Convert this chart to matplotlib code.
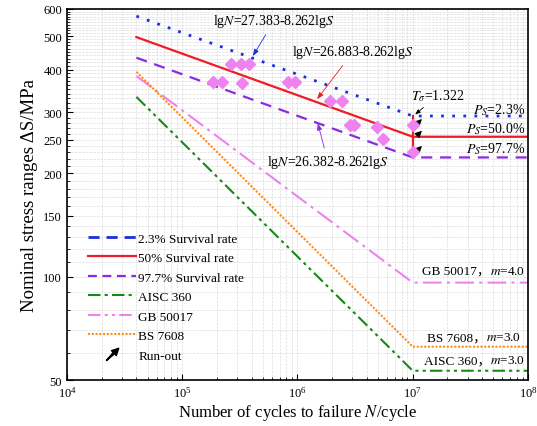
import numpy as np
import matplotlib
matplotlib.use("Agg")
import matplotlib.pyplot as plt
from matplotlib.lines import Line2D
from matplotlib.ticker import FixedLocator, NullFormatter, LogLocator

plt.rcParams["font.family"] = ["Liberation Serif", "Noto Sans CJK SC"]
plt.rcParams["mathtext.fontset"] = "stix"

# ---- data ----
N_curve = [4e4, 1e7, 1e8]
S_p023 = [572, 293, 293]      # 2.3 % survival (lgN=27.383-8.262lgS)
S_p500 = [497, 255, 255]      # 50 % survival  (lgN=26.883-8.262lgS)
S_p977 = [433, 222, 222]      # 97.7 % survival (lgN=26.382-8.262lgS)
S_aisc = [333, 53.2, 53.2]    # AISC 360, m=3
S_gb = [383, 96, 96]          # GB 50017, m=4
S_bs = [394, 62.5, 62.5]      # BS 7608, m=3

test_N = [1.86e5, 2.21e5, 2.65e5, 3.21e5, 3.77e5, 3.32e5, 8.32e5, 9.51e5,
          1.91e6, 2.42e6, 2.85e6, 3.09e6, 4.87e6, 5.49e6, 1e7, 1e7]
test_S = [367, 367, 415, 415, 415, 365, 367, 367,
          323, 323, 275, 275, 273, 251, 275, 230]

runout_N = 1.25e7
runout_S = [291, 269, 243]

y_major = [50, 100, 150, 200, 250, 300, 400, 500, 600]

c_blue, c_red, c_purple = "#1a2fe0", "#ee1c25", "#8a2be2"
c_green, c_pink, c_orange = "#138a13", "#ee82ee", "#ff8c1a"

fig = plt.figure(figsize=(5.37, 4.27), dpi=100)
ax = fig.add_axes([0.1248, 0.1077, 0.8584, 0.8689])

ax.plot(N_curve, S_p023, color=c_blue, lw=2.0, ls=(0, (1, 3)))
ax.plot(N_curve, S_p500, color=c_red, lw=1.6)
ax.plot(N_curve, S_p977, color=c_purple, lw=1.6, ls=(0, (5, 3.5)))
ax.plot(N_curve, S_aisc, color=c_green, lw=1.5, ls=(0, (6, 2, 1.5, 2, 1.5, 2)))
ax.plot(N_curve, S_gb, color=c_pink, lw=1.5, ls=(0, (9, 2.5, 1.5, 2.5)))
ax.plot(N_curve, S_bs, color=c_orange, lw=1.5, ls=(0, (1, 0.8)))
# vertical scatter band at the knee
ax.plot([1e7, 1e7], [S_p977[1], S_p023[1]], color=c_red, lw=1.6)

ax.plot(test_N, test_S, ls="none", marker="D", ms=6.5, color=c_pink,
        mec=c_pink, zorder=5)

for s in runout_S:
    ax.annotate("", xy=(runout_N, s), xytext=(-6, -6), textcoords="offset points",
                arrowprops=dict(arrowstyle="-|>,head_length=0.4,head_width=0.2",
                                color="black", lw=0.8))

ax.set_xscale("log")
ax.set_yscale("log")
ax.set_xlim(1e4, 1e8)
ax.set_ylim(50, 600)
ax.xaxis.set_major_locator(LogLocator(base=10, numticks=10))
ax.yaxis.set_major_locator(FixedLocator(y_major))
ax.yaxis.set_major_formatter(plt.FuncFormatter(lambda v, p: f"{v:g}"))
ax.yaxis.set_minor_locator(FixedLocator([v for v in range(60, 600, 10)
                                         if v not in y_major]))
ax.yaxis.set_minor_formatter(NullFormatter())
ax.tick_params(which="both", direction="in", labelsize=9)
ax.tick_params(which="major", length=4)
ax.tick_params(which="minor", length=2)
ax.grid(which="both", color="#dcdcdc", ls="--", lw=0.5)
for sp in ax.spines.values():
    sp.set_linewidth(1.2)

ax.set_xlabel("Number of cycles to failure $N$/cycle", fontsize=12, labelpad=2)
ax.set_ylabel("Nominal stress ranges ΔS/MPa", fontsize=13.5, labelpad=4)

# equations (text positions in figure pixels, from bottom-left)
arrow_kw = "-|>,head_length=0.4,head_width=0.15"
ax.annotate("lg$N$=27.383-8.262lg$S$", xy=(4.1e5, 438), xytext=(274, 405),
            textcoords="figure pixels", fontsize=10, ha="center", va="center",
            arrowprops=dict(arrowstyle=arrow_kw, color=c_blue, lw=0.6,
                            shrinkA=2, shrinkB=0))
ax.annotate("lg$N$=26.883-8.262lg$S$", xy=(1.48e6, 328), xytext=(353, 374),
            textcoords="figure pixels", fontsize=10, ha="center", va="center",
            arrowprops=dict(arrowstyle=arrow_kw, color=c_red, lw=0.6,
                            shrinkA=2, shrinkB=0))
ax.annotate("lg$N$=26.382-8.262lg$S$", xy=(1.5e6, 279), xytext=(328, 264),
            textcoords="figure pixels", fontsize=10, ha="center", va="center",
            arrowprops=dict(arrowstyle=arrow_kw, color=c_purple, lw=0.6,
                            shrinkA=2, shrinkB=0))
ax.annotate("$T_\\sigma$=1.322", xy=(1.05e7, 296), xytext=(438, 331),
            textcoords="figure pixels", fontsize=10, ha="center", va="center",
            arrowprops=dict(arrowstyle="-|>,head_length=0.3,head_width=0.12",
                            color="black", lw=0.6, shrinkA=2, shrinkB=0))

ax.text(9.5e7, 306, "$P_S$=2.3%", fontsize=10, ha="right", va="center")
ax.text(9.5e7, 270, "$P_S$=50.0%", fontsize=10, ha="right", va="center")
ax.text(9.5e7, 236, "$P_S$=97.7%", fontsize=10, ha="right", va="center")


def code_label(x, y, name, tail):
    t = ax.text(x, y, tail, fontsize=9.5, ha="right", va="center")
    ax.annotate(name + "，", xy=(0, 0.5), xycoords=t, fontsize=9.5,
                ha="right", va="center")


code_label(9.5e7, 104, "GB 50017", "$m$=4.0")
code_label(8.8e7, 66.5, "BS 7608", "$m$=3.0")
code_label(9.5e7, 57, "AISC 360", "$m$=3.0")

# legend
arrow_marker = [(-0.9, -0.9), (0.1, 0.3), (-0.15, 0.55), (0.9, 0.9),
                (0.55, -0.15), (0.3, 0.1), (-0.9, -0.9)]
handles = [
    Line2D([], [], color=c_blue, lw=2, ls=(0, (4, 2.5))),
    Line2D([], [], color=c_red, lw=1.6),
    Line2D([], [], color=c_purple, lw=1.6, ls=(0, (4, 2.5))),
    Line2D([], [], color=c_green, lw=1.5, ls=(0, (6, 2, 1.5, 2))),
    Line2D([], [], color=c_pink, lw=1.5, ls=(0, (6, 2, 1.5, 2, 1.5, 2))),
    Line2D([], [], color=c_orange, lw=1.5, ls=(0, (1, 0.8))),
    Line2D([], [], ls="none", marker=arrow_marker, ms=9, color="black"),
]
labels = ["2.3% Survival rate", "50% Survival rate", "97.7% Survival rate",
          "AISC 360", "GB 50017", "BS 7608", "Run-out"]
ax.legend(handles, labels, loc="upper left", bbox_to_anchor=(0.02, 0.43),
          frameon=False, fontsize=9.5, handlelength=3.6, handletextpad=0.2,
          labelspacing=0.55)

fig.savefig("out.png", dpi=100)
